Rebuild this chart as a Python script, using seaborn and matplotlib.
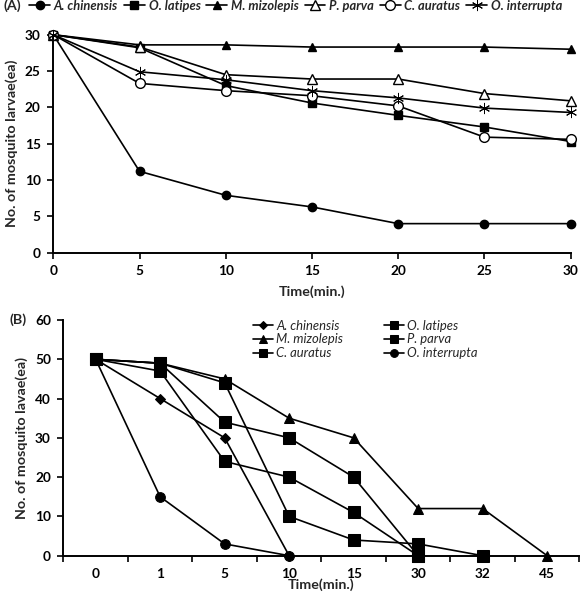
import numpy as np
import pandas as pd
import seaborn as sns
import matplotlib.pyplot as plt

# ---- (A) data: larvae left over time ----
time_a = [0, 5, 10, 15, 20, 25, 30]
a_chinensis = [30, 11.2, 7.9, 6.3, 4.0, 4.0, 4.0]
o_latipes = [30, 28.2, 23.0, 20.6, 18.9, 17.3, 15.3]
m_mizolepis = [30, 28.6, 28.6, 28.3, 28.3, 28.3, 28.0]
p_parva = [30, 28.3, 24.5, 23.9, 23.9, 21.9, 20.9]
c_auratus = [30, 23.3, 22.3, 21.6, 20.2, 15.9, 15.6]
o_interrupta = [30, 24.9, 23.8, 22.3, 21.3, 19.9, 19.3]

# ---- (B) data: categorical time axis ----
time_b = ['0', '1', '5', '10', '15', '30', '32', '45']
b_a_chinensis = [50, 40, 30, 0]
b_o_latipes = [50, 49, 34, 30, 20, 0]
b_m_mizolepis = [50, 49, 45, 35, 30, 12, 12, 0]
b_p_parva = [50, 47, 24, 20, 11, 0]
b_c_auratus = [50, 49, 44, 10, 4, 3, 0]
b_o_interrupta = [50, 15, 3, 0]

sns.set_theme(style='ticks')
plt.rcParams['font.family'] = ['Lato', 'DejaVu Sans']
plt.rcParams['font.weight'] = 'bold'

TICK_FS = 9.8
LAB_FS = 10.3

fig = plt.figure(figsize=(5.82, 5.94), dpi=100)
W, H = 582, 594

def px_axes(l, t, r, b):
    return fig.add_axes([l / W, 1 - b / H, (r - l) / W, (b - t) / H])

def style_axes(ax):
    for s in ['top', 'right']:
        ax.spines[s].set_visible(False)
    for s in ['left', 'bottom']:
        ax.spines[s].set_linewidth(1.4)
        ax.spines[s].set_color('black')
    ax.tick_params(axis='both', direction='out', length=4, width=1.2,
                   colors='black', labelsize=TICK_FS, pad=5)
    for lab in ax.get_xticklabels() + ax.get_yticklabels():
        lab.set_fontweight('bold')

# ---------------- panel A ----------------
axA = px_axes(53.3, 34.7, 570.7, 252.7)
series_a = [
    ('A. chinensis', a_chinensis, 'o', 'black', 6, 1.0),
    ('O. latipes', o_latipes, 's', 'black', 6, 1.0),
    ('M. mizolepis', m_mizolepis, '^', 'black', 6, 1.0),
    ('P. parva', p_parva, '^', 'white', 7, 1.0),
    ('C. auratus', c_auratus, 'o', 'white', 7, 1.0),
    ('O. interrupta', o_interrupta, (6, 2, 0), 'black', 8, 0.7),
]
for name, vals, mk, fc, ms, mew in series_a:
    df = pd.DataFrame({'time': time_a, 'n': vals})
    sns.lineplot(data=df, x='time', y='n', ax=axA, color='black', lw=1.2,
                 marker=mk, markersize=ms, markerfacecolor=fc,
                 markeredgecolor='black', markeredgewidth=mew,
                 clip_on=False, label=name)
if axA.get_legend() is not None:
    axA.get_legend().remove()
axA.set_xlim(0, 30)
axA.set_ylim(0, 30)
axA.set_xticks(range(0, 31, 5))
axA.set_yticks(range(0, 31, 5))
axA.set_xlabel('Time(min.)', fontsize=LAB_FS, fontweight='bold', labelpad=6)
axA.set_ylabel('No. of mosquito larvae(ea)', fontsize=LAB_FS, fontweight='bold', labelpad=5)
style_axes(axA)

fig.legend(handles=axA.lines[:6], labels=[s[0] for s in series_a],
           loc='center left', bbox_to_anchor=(23 / W, 1 - 6 / H), ncol=6,
           frameon=False, borderpad=0, handlelength=1.6, handletextpad=0.3,
           columnspacing=0.45, prop={'size': 9.3, 'weight': 'bold', 'style': 'italic'})
fig.text(3 / W, 1 - 6 / H, '(A)', fontsize=LAB_FS, fontweight='bold', va='center', ha='left')

# ---------------- panel B ----------------
axB = px_axes(63.4, 320, 579.4, 555.7)
pos = np.arange(len(time_b))
series_b = [
    ('A. chinensis', b_a_chinensis, 'D', 5),
    ('O. latipes', b_o_latipes, 's', 8),
    ('M. mizolepis', b_m_mizolepis, '^', 7),
    ('P. parva', b_p_parva, 's', 8),
    ('C. auratus', b_c_auratus, 's', 8),
    ('O. interrupta', b_o_interrupta, 'o', 7),
]
for name, vals, mk, ms in series_b:
    df = pd.DataFrame({'pos': pos[:len(vals)], 'n': vals})
    sns.lineplot(data=df, x='pos', y='n', ax=axB, color='black', lw=1.2,
                 marker=mk, markersize=ms, markerfacecolor='black',
                 markeredgecolor='black', clip_on=False, label=name)
if axB.get_legend() is not None:
    axB.get_legend().remove()
axB.set_xlim(-0.5, len(time_b) - 0.5)
axB.set_ylim(0, 60)
axB.set_yticks(range(0, 61, 10))
axB.set_xticks(pos)
axB.set_xticklabels(time_b)
axB.set_xticks(np.arange(-0.5, len(time_b), 1.0), minor=True)
axB.set_xlabel('Time(min.)', fontsize=LAB_FS, fontweight='bold', labelpad=-1)
axB.set_ylabel('No. of mosquito lavae(ea)', fontsize=LAB_FS, fontweight='bold', labelpad=5)
style_axes(axB)
axB.tick_params(axis='x', which='major', length=0, pad=9)
axB.tick_params(axis='x', which='minor', direction='out', length=4, width=1.2, colors='black')

# legend in two columns, row-wise order like the original
order = [0, 2, 4, 1, 3, 5]
hb = [axB.lines[i] for i in order]
lb = [series_b[i][0] for i in order]
axB.legend(handles=hb, labels=lb, ncol=2, loc='upper left',
           bbox_to_anchor=(246 / W, 1 - 313 / H), bbox_transform=fig.transFigure,
           frameon=False, borderpad=0, handlelength=1.6, handletextpad=0.2,
           columnspacing=3.1, labelspacing=0.15, markerscale=0.8,
           prop={'size': 9.4, 'style': 'italic', 'weight': 'normal'})
fig.text(10 / W, 1 - 320 / H, '(B)', fontsize=LAB_FS, fontweight='bold', va='center', ha='left')

fig.savefig('out.png', dpi=100)
